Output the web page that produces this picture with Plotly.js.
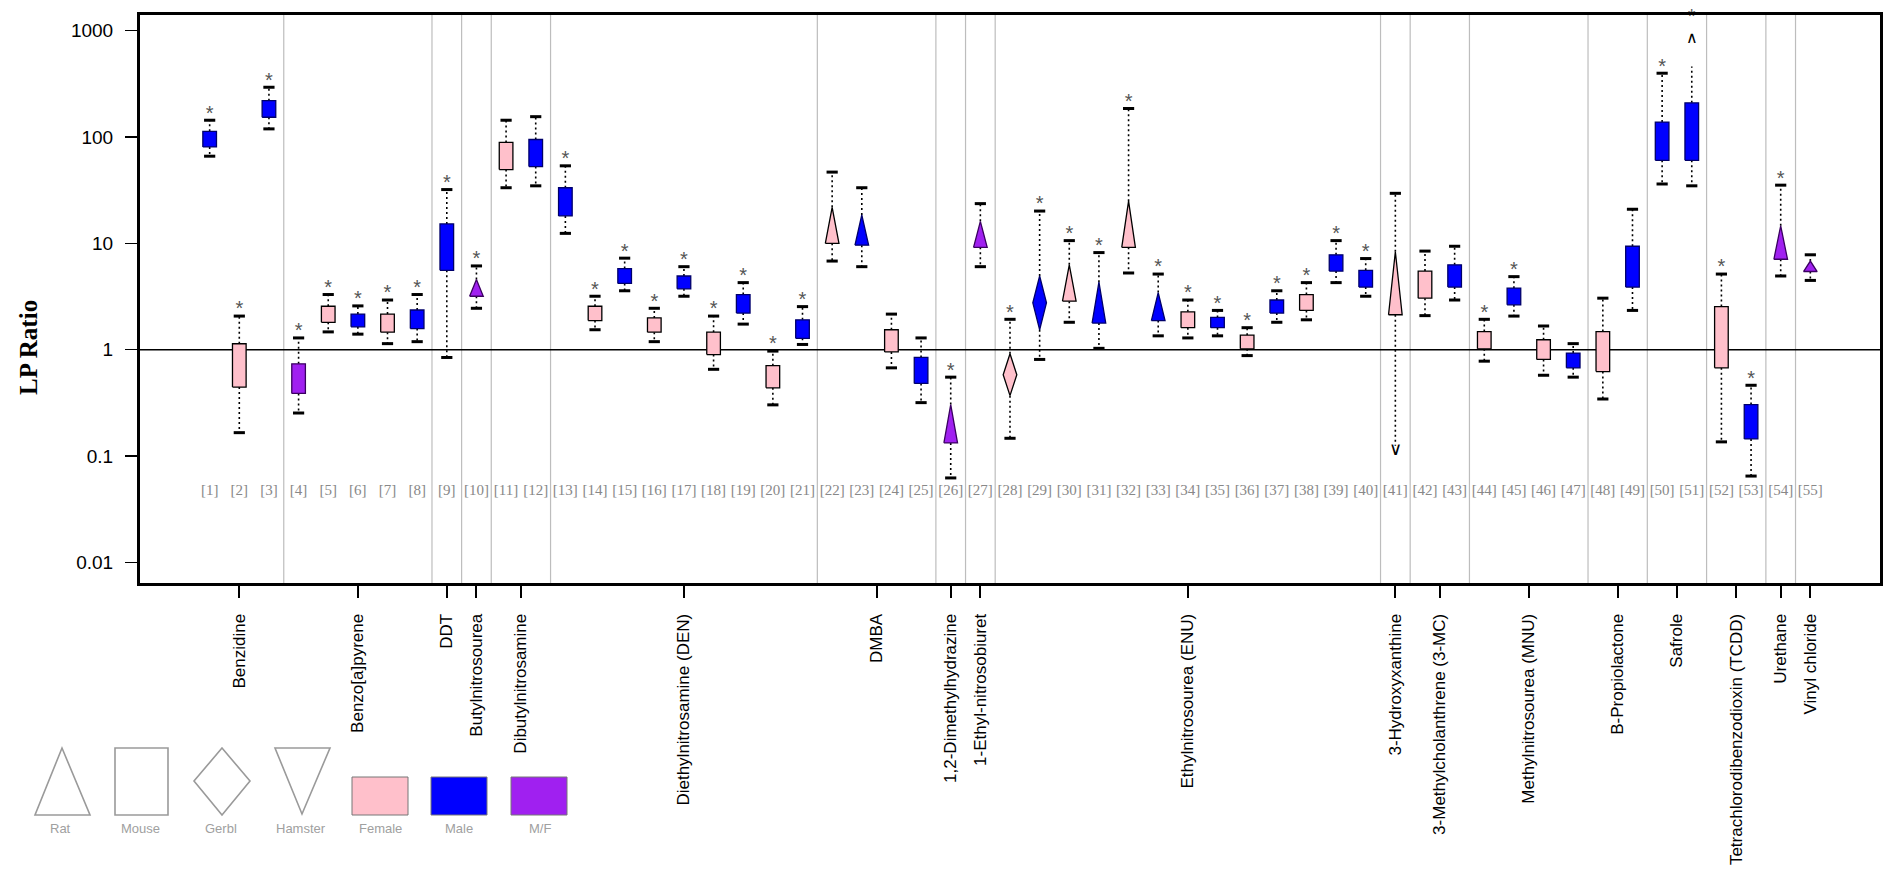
<!DOCTYPE html>
<html>
<head>
<meta charset="utf-8">
<script src="https://cdn.plot.ly/plotly-3.0.1.min.js"></script>
<style>
html,body{margin:0;padding:0;background:#fff;}
#chart{width:1885px;height:877px;}
</style>
</head>
<body>
<div id="chart"></div>
<script>
// ---------------- DATA ----------------
const boxIds = [1,2,3,4,5,6,7,8,9,10,11,12,13,14,15,16,17,18,19,20,21,22,23,24,25,26,27,28,29,30,31,32,33,34,35,36,37,38,39,40,41,42,43,44,45,46,47,48,49,50,51,52,53,54,55];

const species = ['Mouse','Mouse','Mouse','Mouse','Mouse','Mouse','Mouse','Mouse','Mouse','Rat',
  'Mouse','Mouse','Mouse','Mouse','Mouse','Mouse','Mouse','Mouse','Mouse','Mouse',
  'Mouse','Rat','Rat','Mouse','Mouse','Rat','Rat','Gerbil','Gerbil','Rat',
  'Rat','Rat','Rat','Mouse','Mouse','Mouse','Mouse','Mouse','Mouse','Mouse',
  'Rat','Mouse','Mouse','Mouse','Mouse','Mouse','Mouse','Mouse','Mouse','Mouse',
  'Mouse','Mouse','Mouse','Rat','Rat'];

const sex = ['M','F','M','MF','F','M','F','M','M','MF',
  'F','M','M','F','M','F','M','F','M','F',
  'M','F','M','F','M','MF','MF','F','M','F',
  'M','F','M','F','M','F','M','F','M','M',
  'F','F','M','F','M','F','M','F','M','M',
  'M','F','M','MF','MF'];

const whiskerLow = [65.9,0.166,119,0.254,1.47,1.40,1.14,1.19,0.845,2.45,
  33.3,34.7,12.4,1.54,3.58,1.19,3.18,0.654,1.74,0.303,
  1.12,6.81,6.03,0.675,0.318,0.0623,6.03,0.147,0.81,1.81,
  1.03,5.26,1.35,1.29,1.35,0.88,1.81,1.91,4.27,3.18,
  0.125,2.09,2.93,0.78,2.07,0.575,0.552,0.344,2.34,36.1,
  34.7,0.136,0.0649,4.93,4.48];

const boxLow = [80.5,0.445,153,0.388,1.81,1.64,1.46,1.58,5.57,3.18,
  49.3,52.6,18.1,1.88,4.2,1.46,3.73,0.90,2.21,0.438,
  1.28,10.0,9.6,0.953,0.482,0.133,9.16,0.37,1.54,2.86,
  1.78,9.16,1.88,1.61,1.61,1.02,2.21,2.34,5.48,3.88,
  2.13,3.05,3.88,1.02,2.64,0.81,0.675,0.623,3.88,60.3,
  60.3,0.675,0.145,7.08,5.43];

const boxHigh = [112.8,1.137,219,0.737,2.56,2.16,2.16,2.36,15.2,4.56,
  88.7,94.6,33.3,2.56,5.79,1.99,4.93,1.46,3.30,0.708,
  1.91,21.8,18.5,1.54,0.845,0.305,16.1,0.915,4.93,6.28,
  4.31,24.9,3.44,2.27,2.01,1.37,2.93,3.30,7.8,5.57,
  8.32,5.48,6.28,1.48,3.79,1.24,0.93,1.48,9.38,138,
  209,2.54,0.305,14.6,6.81];

const whiskerHigh = [143.5,2.07,293,1.29,3.30,2.58,2.93,3.30,32.0,6.13,
  143.5,155,53.5,3.18,7.25,2.45,6.03,2.07,4.27,0.97,
  2.54,46.7,33.3,2.16,1.29,0.552,23.6,1.93,20.1,10.6,
  8.18,185,5.14,2.93,2.34,1.61,3.58,4.27,10.6,7.19,
  29.5,8.45,9.38,1.93,4.86,1.67,1.14,3.05,20.9,397,
  459,5.14,0.463,35.2,7.8];

const significant = [1,1,1,1,1,1,1,1,1,1,
  0,0,1,1,1,1,1,1,1,1,
  1,0,0,0,0,1,0,1,1,1,
  1,1,1,1,1,1,1,1,1,1,
  0,0,0,1,1,0,0,0,0,1,
  1,1,1,1,0];

// off-scale whiskers
const arrowUpBox = [51];
const arrowUpValue = [840];
const arrowDownBox = [41];
const arrowDownValue = [0.112];
const arrowStarValue = [1300];

// chemical groups
const groupNames = ['Benzidine','Benzo[a]pyrene','DDT','Butylnitrosourea','Dibutylnitrosamine',
  'Diethylnitrosamine (DEN)','DMBA','1,2-Dimethylhydrazine','1-Ethyl-nitrosobiuret',
  'Ethylnitrosourea (ENU)','3-Hydroxyxanthine','3-Methylcholanthrene (3-MC)',
  'Methylnitrosourea (MNU)','B-Propiolactone','Safrole','Tetrachlorodibenzodioxin (TCDD)',
  'Urethane','Vinyl chloride'];
const groupFirst = [1,4,9,10,11,13,22,26,27,28,41,42,44,48,50,52,54,55];
const groupLast  = [3,8,9,10,12,21,25,26,27,40,41,43,47,49,51,53,54,55];

const yTickVals = [0.01,0.1,1,10,100,1000];
const yTickText = ['0.01','0.1','1','10','100','1000'];

const legendSpecies = ['Rat','Mouse','Gerbl','Hamster'];
const legendSex = ['Female','Male','M/F'];
const sexKeys = ['F','M','MF'];

// ---------------- STYLE ----------------
const COLORS = {F:'#FFC0CB', M:'#0000FF', MF:'#A020F0'};
const EDGE = {F:'#000000', M:'#00006a', MF:'#3a0060'};
const ARIAL = 'Arial, "Liberation Sans", sans-serif';
const SERIF = '"Times New Roman", "Liberation Serif", serif';
const HW = 0.23;
const XR = [-1.35, 57.35];

const traces = [];

// reference line at 1
traces.push({type:'scatter', mode:'lines', x:XR, y:[1,1], line:{color:'#000', width:1.6},
  hoverinfo:'skip', showlegend:false});

// whiskers
const wx = [], wy = [];
for (let i = 0; i < boxIds.length; i++) {
  const x = boxIds[i];
  wx.push(x, x, null, x, x, null);
  wy.push(boxHigh[i], whiskerHigh[i], null, boxLow[i], whiskerLow[i], null);
}
traces.push({type:'scatter', mode:'lines', x:wx, y:wy, connectgaps:false,
  line:{color:'#000', width:1.6, dash:'2px,3px'}, hoverinfo:'skip', showlegend:false});

// boxes / triangles / diamonds
for (let i = 0; i < boxIds.length; i++) {
  const x = boxIds[i], lo = boxLow[i], hi = boxHigh[i];
  let xs, ys;
  if (species[i] === 'Mouse') {
    xs = [x-HW, x+HW, x+HW, x-HW, x-HW]; ys = [lo, lo, hi, hi, lo];
  } else if (species[i] === 'Rat') {
    xs = [x-HW, x+HW, x, x-HW]; ys = [lo, lo, hi, lo];
  } else {
    const mid = Math.sqrt(lo*hi);
    xs = [x, x+HW, x, x-HW, x]; ys = [lo, mid, hi, mid, lo];
  }
  traces.push({type:'scatter', mode:'lines', x:xs, y:ys, fill:'toself',
    fillcolor:COLORS[sex[i]], line:{color:EDGE[sex[i]], width:1.3},
    hoverinfo:'skip', showlegend:false});
}

// caps
const cx = [], cy = [];
for (let i = 0; i < boxIds.length; i++) {
  const id = boxIds[i];
  if (arrowUpBox.indexOf(id) < 0) { cx.push(id); cy.push(whiskerHigh[i]); }
  if (arrowDownBox.indexOf(id) < 0) { cx.push(id); cy.push(whiskerLow[i]); }
}
traces.push({type:'scatter', mode:'markers', x:cx, y:cy,
  marker:{symbol:'line-ew', size:8, line:{color:'#000', width:3}},
  hoverinfo:'skip', showlegend:false});

// off-scale arrows
traces.push({type:'scatter', mode:'text', x:arrowUpBox, y:arrowUpValue, text:arrowUpBox.map(()=>'∧'),
  textposition:'middle center', textfont:{family:ARIAL, size:16, color:'#000'},
  hoverinfo:'skip', showlegend:false, cliponaxis:false});
traces.push({type:'scatter', mode:'text', x:arrowDownBox, y:arrowDownValue, text:arrowDownBox.map(()=>'∨'),
  textposition:'middle center', textfont:{family:ARIAL, size:18, color:'#000'},
  hoverinfo:'skip', showlegend:false, cliponaxis:false});

// significance asterisks
const sx = [], sy = [];
for (let i = 0; i < boxIds.length; i++) {
  if (!significant[i]) continue;
  const id = boxIds[i];
  const k = arrowUpBox.indexOf(id);
  sx.push(id);
  sy.push(k >= 0 ? arrowStarValue[k] : whiskerHigh[i]*1.13);
}
traces.push({type:'scatter', mode:'text', x:sx, y:sy, text:sx.map(()=>'*'),
  textposition:'middle center', textfont:{family:ARIAL, size:20, color:'#555'},
  hoverinfo:'skip', showlegend:false, cliponaxis:false});

// index labels
traces.push({type:'scatter', mode:'text', x:boxIds, y:boxIds.map(()=>0.047),
  text:boxIds.map(d => '[' + d + ']'), textposition:'middle center',
  textfont:{family:SERIF, size:15, color:'#888'}, hoverinfo:'skip', showlegend:false});

// ---------------- LAYOUT ----------------
const PL = 140, PR = 1880, PT = 15, PB = 583;
const px = v => (v - PL) / (PR - PL);
const py = v => (PB - v) / (PB - PT);

const shapes = [];
// separators between chemicals
for (let g = 0; g < groupLast.length - 1; g++) {
  shapes.push({type:'line', xref:'x', yref:'paper', x0:groupLast[g]+0.5, x1:groupLast[g]+0.5, y0:0, y1:1,
    line:{color:'#bdbdbd', width:1.2}, layer:'below'});
}
const tickVals = groupFirst.map((f, g) => (f + groupLast[g]) / 2);

// legend shapes
const legStroke = {color:'#9a9a9a', width:1.6};
const path = pts => 'M ' + pts.map(p => px(p[0]) + ',' + py(p[1])).join(' L ') + ' Z';
shapes.push({type:'path', xref:'paper', yref:'paper', path:path([[35,815],[90,815],[62,748]]), line:legStroke});
shapes.push({type:'rect', xref:'paper', yref:'paper', x0:px(115), x1:px(168), y0:py(815), y1:py(748), line:legStroke});
shapes.push({type:'path', xref:'paper', yref:'paper', path:path([[222,748],[250,781],[222,815],[194,781]]), line:legStroke});
shapes.push({type:'path', xref:'paper', yref:'paper', path:path([[275,748],[330,748],[302,814]]), line:legStroke});
const sexBoxX = [352, 431, 511];
sexKeys.forEach((k, j) => {
  shapes.push({type:'rect', xref:'paper', yref:'paper', x0:px(sexBoxX[j]), x1:px(sexBoxX[j]+56),
    y0:py(815), y1:py(777), fillcolor:COLORS[k], line:{color:'#777', width:1}});
});

const annotations = [];
annotations.push({xref:'paper', yref:'paper', x:px(29), y:py(348), text:'<b>LP Ratio</b>', textangle:-90,
  showarrow:false, font:{family:SERIF, size:25, color:'#000'}, xanchor:'center', yanchor:'middle'});
const legLabelX = [60, 140, 221, 301, 380, 459, 540];
const legLabels = legendSpecies.concat(legendSex);
legLabels.forEach((t, j) => {
  annotations.push({xref:'paper', yref:'paper', x:px(legLabelX[j]), y:py(828), text:t, showarrow:false,
    font:{family:ARIAL, size:13, color:'#a0a0a0'}, xanchor:'center', yanchor:'middle'});
});

const layout = {
  width:1885, height:877,
  margin:{l:PL, r:1885-PR, t:PT, b:877-PB, pad:0},
  paper_bgcolor:'#fff', plot_bgcolor:'#fff',
  showlegend:false,
  xaxis:{range:XR, showgrid:false, zeroline:false, showline:true, mirror:true,
    linecolor:'#000', linewidth:3, ticks:'outside', ticklen:12, tickwidth:2, tickcolor:'#000',
    tickmode:'array', tickvals:tickVals, ticktext:groupNames, tickangle:-90, ticklabelstandoff:9,
    tickfont:{family:ARIAL, size:17, color:'#000'}, fixedrange:true},
  yaxis:{type:'log', range:[-2.193, 3.146], showgrid:false, zeroline:false, showline:true, mirror:true,
    linecolor:'#000', linewidth:3, ticks:'outside', ticklen:12, tickwidth:1.5, tickcolor:'#000',
    tickmode:'array', tickvals:yTickVals, ticktext:yTickText, ticklabelstandoff:8,
    tickfont:{family:ARIAL, size:19, color:'#000'}, fixedrange:true},
  shapes:shapes,
  annotations:annotations
};

Plotly.newPlot('chart', traces, layout, {staticPlot:true, displayModeBar:false});
</script>
</body>
</html>
